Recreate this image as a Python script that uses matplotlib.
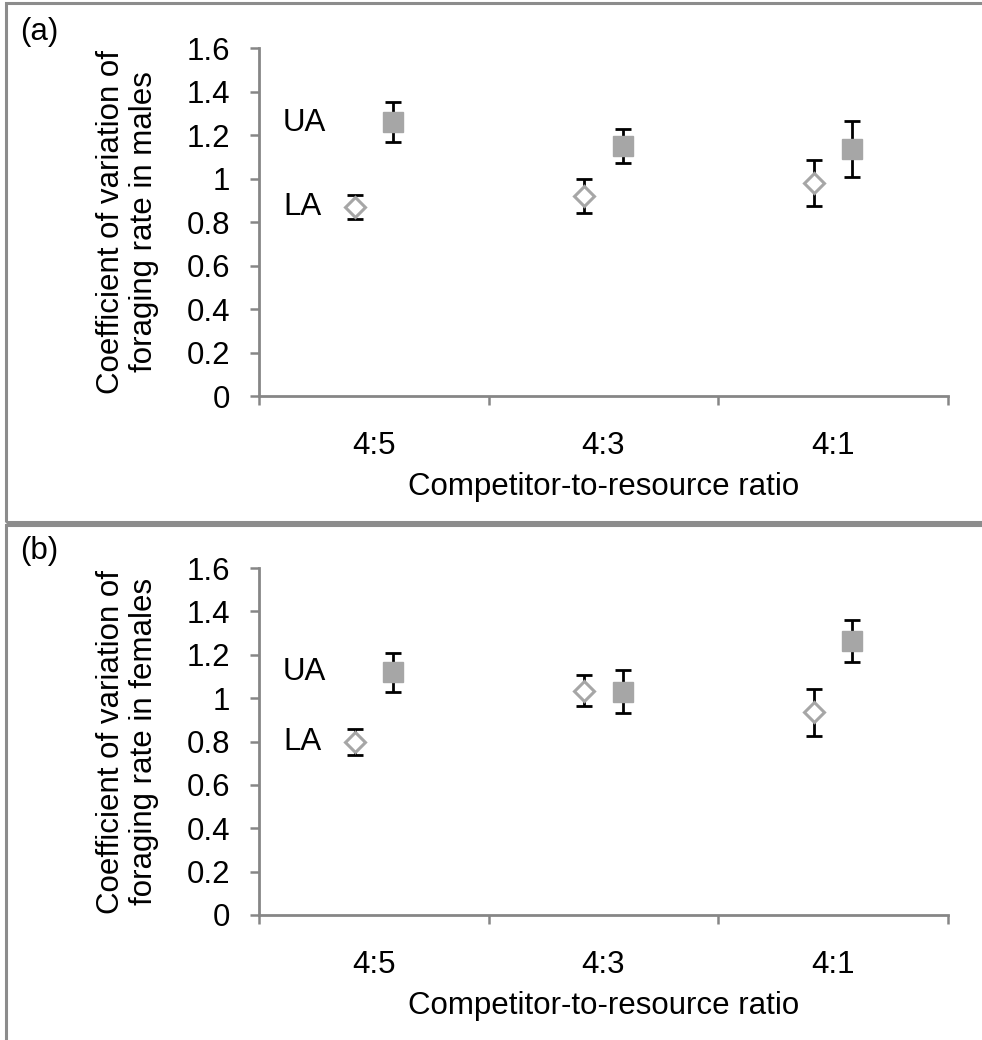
import matplotlib
matplotlib.use("Agg")
import matplotlib.pyplot as plt
from matplotlib.patches import Rectangle

plt.rcParams['font.family'] = ['Liberation Sans', 'DejaVu Sans']

ratios = ["4:5", "4:3", "4:1"]

# panel (a) males
la_males = [0.87, 0.92, 0.98]
la_males_err = [0.055, 0.077, 0.104]
ua_males = [1.26, 1.15, 1.135]
ua_males_err = [0.093, 0.08, 0.13]

# panel (b) females
la_females = [0.80, 1.035, 0.935]
la_females_err = [0.06, 0.07, 0.108]
ua_females = [1.12, 1.03, 1.265]
ua_females_err = [0.09, 0.1, 0.097]

axis_grey = "#868686"
fill_grey = "#A6A6A6"
fs = 22.5

fig = plt.figure(figsize=(9.82, 10.4), dpi=100)


def draw_panel(rect, la, la_err, ua, ua_err, ylabel, tag, tag_y, la_y, ua_y):
    ax = fig.add_axes(rect)
    x = range(len(ratios))
    off = 0.083
    ax.errorbar([i - off for i in x], la, yerr=la_err, fmt='none', ecolor='black',
                elinewidth=2, capsize=6, capthick=2, zorder=2)
    ax.plot([i - off for i in x], la, linestyle='none', marker='D', markersize=10.5,
            markerfacecolor='white', markeredgecolor=fill_grey, markeredgewidth=2.2, zorder=3)
    ax.errorbar([i + off for i in x], ua, yerr=ua_err, fmt='none', ecolor='black',
                elinewidth=2, capsize=6, capthick=2, zorder=2)
    ax.plot([i + off for i in x], ua, linestyle='none', marker='s', markersize=15,
            markerfacecolor=fill_grey, markeredgecolor=fill_grey, zorder=3)

    ax.set_xlim(-0.5, 2.5)
    ax.set_ylim(0, 1.6)
    ax.set_yticks([0, 0.2, 0.4, 0.6, 0.8, 1, 1.2, 1.4, 1.6])
    ax.set_yticklabels(["0", "0.2", "0.4", "0.6", "0.8", "1", "1.2", "1.4", "1.6"])
    ax.set_xticks([-0.5, 0.5, 1.5, 2.5])
    ax.set_xticklabels([])
    ax.set_xticks([0, 1, 2], minor=True)
    ax.set_xticklabels(ratios, minor=True)
    ax.tick_params(axis='x', which='minor', length=0, pad=25, labelsize=fs)
    ax.tick_params(axis='x', which='major', length=6.5, width=1.8, color=axis_grey, direction='out')
    ax.tick_params(axis='y', length=6.5, width=1.8, color=axis_grey, labelsize=fs, pad=14)

    for side in ['top', 'right']:
        ax.spines[side].set_visible(False)
    for side in ['left', 'bottom']:
        ax.spines[side].set_color(axis_grey)
        ax.spines[side].set_linewidth(2)

    ax.set_xlabel("Competitor-to-resource ratio", fontsize=fs, labelpad=8)
    ax.set_ylabel(ylabel, fontsize=fs, labelpad=20, linespacing=1.15)

    ax.text(-0.395, ua_y, "UA", fontsize=fs, va='center', ha='left')
    ax.text(-0.395, la_y, "LA", fontsize=fs, va='center', ha='left')
    fig.text(0.021, tag_y, tag, fontsize=fs, va='center', ha='left')
    return ax


draw_panel([0.2637, 0.6192, 0.7017, 0.3346], la_males, la_males_err, ua_males, ua_males_err,
           "Coefficient of variation of\nforaging rate in males", "(a)", 0.969, 0.87, 1.255)
draw_panel([0.2637, 0.1202, 0.7017, 0.3336], la_females, la_females_err, ua_females, ua_females_err,
           "Coefficient of variation of\nforaging rate in females", "(b)", 0.47, 0.80, 1.12)

# panel frames
fig.patches.append(Rectangle((0.006, 0.498), 1.0, 0.499, transform=fig.transFigure,
                             fill=False, edgecolor="#8C8C8C", linewidth=2.2))
fig.patches.append(Rectangle((0.006, -0.01), 1.0, 0.505, transform=fig.transFigure,
                             fill=False, edgecolor="#8C8C8C", linewidth=2.2))

fig.savefig("out.png", dpi=100)
